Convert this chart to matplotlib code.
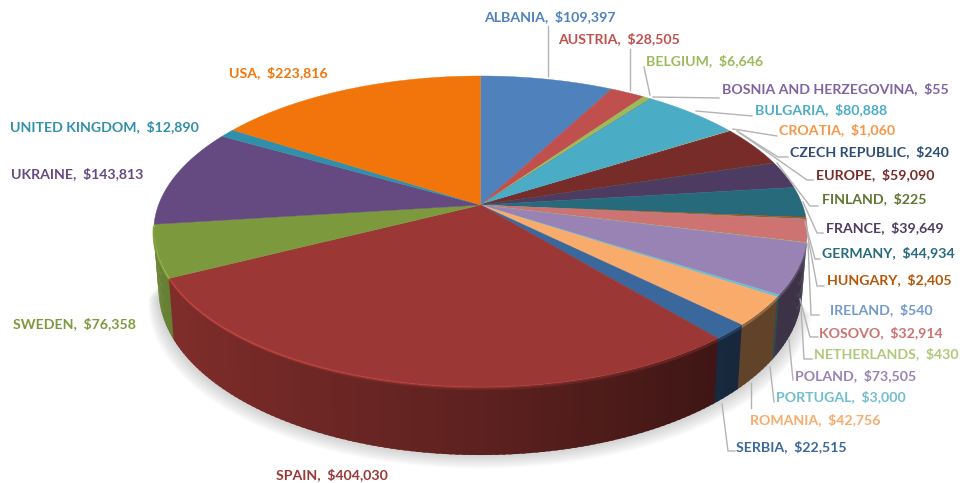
import matplotlib
matplotlib.use('Agg')
import matplotlib.pyplot as plt
import numpy as np

countries = ['ALBANIA', 'AUSTRIA', 'BELGIUM', 'BOSNIA AND HERZEGOVINA', 'BULGARIA', 'CROATIA',
             'CZECH REPUBLIC', 'EUROPE', 'FINLAND', 'FRANCE', 'GERMANY', 'HUNGARY', 'IRELAND',
             'KOSOVO', 'NETHERLANDS', 'POLAND', 'PORTUGAL', 'ROMANIA', 'SERBIA', 'SPAIN',
             'SWEDEN', 'UKRAINE', 'UNITED KINGDOM', 'USA']
amounts = [109397, 28505, 6646, 55, 80888, 1060, 240, 59090, 225, 39649, 44934, 2405, 540,
           32914, 430, 73505, 3000, 42756, 22515, 404030, 76358, 143813, 12890, 223816]
colors = ['#4f81bd', '#c0504d', '#9bbb59', '#8064a2', '#4bacc6', '#f79646', '#2c4d75', '#772c2a',
          '#5f7530', '#4d3b62', '#276a7c', '#b65708', '#729aca', '#cd7371', '#afc97a', '#9983b5',
          '#6fbdd1', '#f9ab6b', '#3a679c', '#9b3734', '#7c9a3d', '#644a80', '#3090ab', '#f1750b']

# label anchor (left edge, centre height) in pixels
label_pos = [(484, 17), (558, 39), (646, 61), (722, 89), (755, 110), (779, 130), (790, 152),
             (816, 175), (822, 199), (826, 228), (822, 253), (827, 280), (830, 310), (819, 333),
             (814, 354), (795, 376), (776, 397), (750, 420), (736, 447), (276, 475), (13, 324),
             (11, 174), (10, 127), (229, 73)]
# leader lines, same order, None where the label has no line
leaders = [[(548, 26), (548, 76)], [(630, 49), (630, 90)], [(644, 67), (650, 95)],
           [(653, 97), (719, 98)], [(696, 111), (752, 116)], [(733, 129), (777, 136)],
           [(737, 131), (778, 157), (788, 157)], [(740, 133), (807, 180), (813, 180)],
           [(777, 163), (810, 206), (818, 206)], [(803, 202), (817, 233), (823, 233)],
           [(805, 222), (815, 259), (820, 259)], [(807, 232), (817, 286), (824, 286)],
           [(808, 243), (811, 315), (819, 315)], [(800, 299), (810, 337), (818, 337)],
           [(801, 307), (804, 359), (812, 359)], [(789, 340), (793, 380)], [(770, 367), (774, 402)],
           [(751, 383), (751, 408)], [(722, 404), (728, 451), (735, 451)], None, None, None, None, None]

# pie projection, all in picture pixels
cx, cy = 480.5, 205
A, B, K = 322, 151, 0.1705
H = 56.4
wall_start, wall_end = np.radians(103.5), np.radians(262.7)


def top_point(theta):
    u, v = np.sin(theta), np.cos(theta)
    d = 1 + K*v
    return cx + A*u/d, cy - B*v/d


def bottom_point(theta):
    x, y = top_point(theta)
    v = np.cos(theta)
    return cx + (x - cx)*0.985, y + H/(1 + K*v)


def shade(col, f):
    return tuple(np.clip(np.array(matplotlib.colors.to_rgb(col))*f, 0, 1))


def side_factor(theta):
    u = np.sin(theta)
    return 0.6 - 0.25*u if u < 0 else max(0.6 - 0.31*u, 0.39)


fig = plt.figure(figsize=(9.71, 4.83), dpi=100)
ax = fig.add_axes([0, 0, 1, 1])
ax.set_xlim(0, 971)
ax.set_ylim(483, 0)
ax.axis('off')

edges = np.cumsum([0] + amounts)/sum(amounts)*2*np.pi

# soft shadow under the pie
tt = np.radians(np.arange(104, 263, 2))
bx, by = bottom_point(tt)
for grow in np.arange(1, 17, 1.5):
    sx = np.concatenate([[cx - 320], cx + (bx - cx)*(1 + grow/500), [cx + 320]])
    sy = np.concatenate([[240], by + grow*0.9 - 1, [240]])
    ax.fill(sx, sy, color='#808080', alpha=0.035, lw=0, zorder=1)

# side wall, thin strips so the shading runs along it; each strip runs on under the next one
for i in range(len(amounts)):
    a0 = max(edges[i], wall_start)
    a1 = min(edges[i+1], wall_end)
    if a1 <= a0:
        continue
    n = max(int(np.degrees(a1 - a0)/1.0), 1)
    steps = np.linspace(a0, a1, n + 1)
    for s0, s1 in zip(steps[:-1], steps[1:]):
        over = np.array([s0, (s0 + s1)/2, min(s1 + 0.01, wall_end)])
        x_t, y_t = top_point(over)
        x_b, y_b = bottom_point(over)
        c = shade(colors[i], side_factor((s0 + s1)/2))
        ax.fill(np.concatenate([x_t, x_b[::-1]]), np.concatenate([y_t, y_b[::-1]]), color=c, lw=0, zorder=2)

# top face
for i in range(len(amounts)):
    n = max(int(np.degrees(edges[i+1] - edges[i])*2), 2)
    steps = np.linspace(edges[i], edges[i+1], n + 1)
    x, y = top_point(steps)
    ax.fill(np.concatenate([[cx], x]), np.concatenate([[cy], y]), color=colors[i], lw=0.3, zorder=3)

# bevel along the front rim
for i in range(len(amounts)):
    a0 = max(edges[i], wall_start)
    a1 = min(edges[i+1], wall_end)
    if a1 <= a0:
        continue
    steps = np.linspace(a0, a1, max(int(np.degrees(a1 - a0)/2), 1) + 1)
    for s0, s1 in zip(steps[:-1], steps[1:]):
        x, y = top_point(np.array([s0, s1]))
        u = np.sin((s0 + s1)/2)
        light = shade(colors[i], 1.3)
        ax.plot(x, y + 0.5, color=light, lw=1.6, alpha=float(np.clip(0.45 - 0.5*u, 0.1, 0.8)),
                solid_capstyle='butt', zorder=4)
        ax.plot(x, y + 2.2, color=shade(colors[i], 0.8), lw=1.5, alpha=0.5,
                solid_capstyle='butt', zorder=4)

for line in leaders:
    if line is None:
        continue
    xs, ys = zip(*line)
    ax.plot(xs, ys, color='#b3b3b3', lw=1.0, zorder=5)

for name, val, col, pos in zip(countries, amounts, colors, label_pos):
    ax.text(pos[0], pos[1], '{},  ${:,}'.format(name, val), color=col, family='Lato',
            fontweight='bold', fontsize=10.2, ha='left', va='center', zorder=6)

fig.savefig('out.png', dpi=100)
